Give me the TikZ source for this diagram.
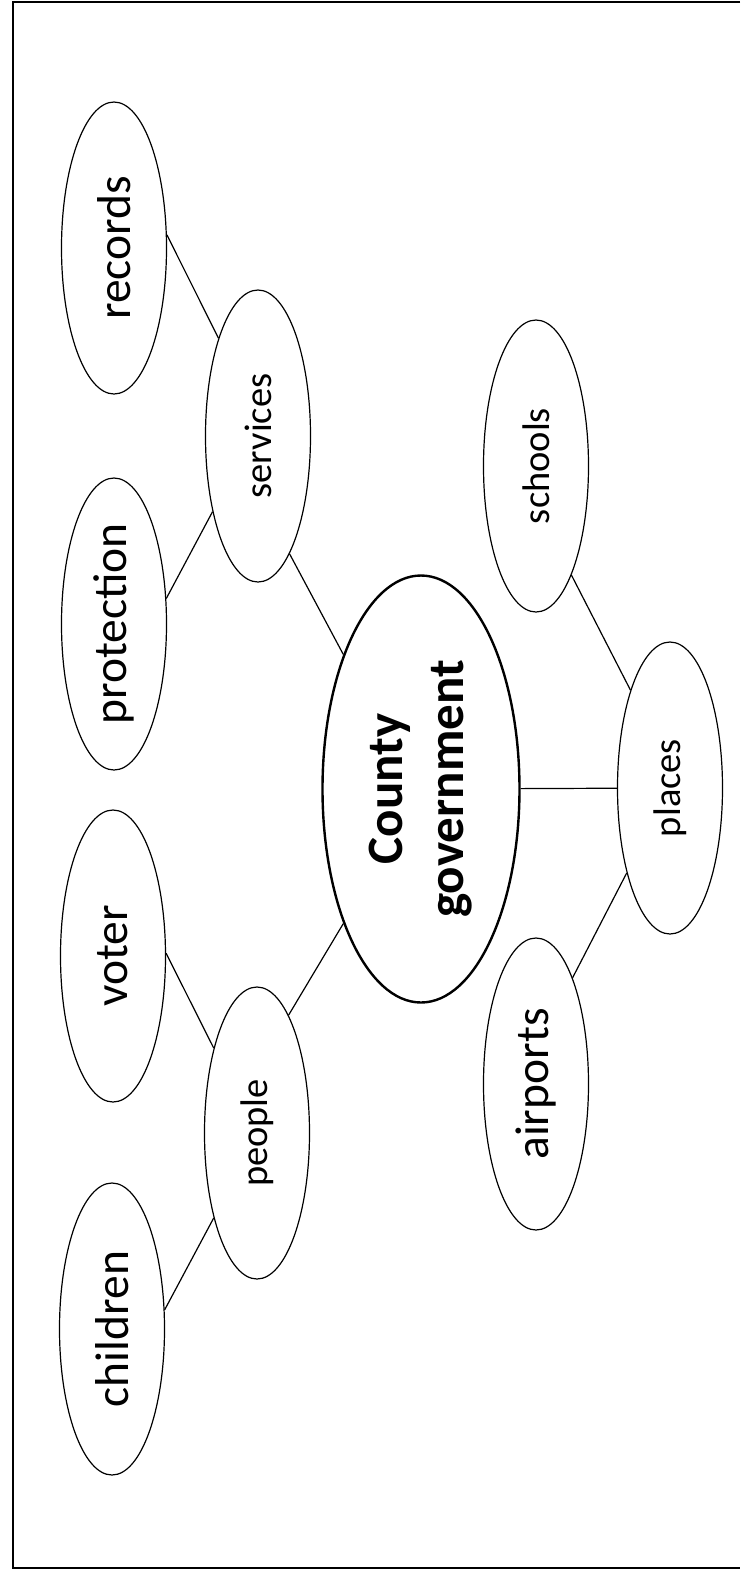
\documentclass[tikz,border=0pt]{standalone}
\usepackage{fontspec}
\setmainfont{Carlito}
\usetikzlibrary{shapes.geometric}

\begin{document}
\begin{tikzpicture}[x=0.5pt,y=-0.5pt]
\useasboundingbox (0,0) rectangle (740,1581);
\draw[line width=1.2pt] (740,2) -- (13,2) -- (13,1568) -- (740,1568);

\begin{scope}[every node/.style={ellipse,draw,line width=0.6pt,rotate=90,inner sep=0pt,
  minimum width=146pt,minimum height=52.5pt,font=\fontsize{23.75}{28}\selectfont}]
\node (records) at (114,248) {records};
\node (protection) at (114,624) {protection};
\node (voter) at (113,956) {voter};
\node (children) at (112,1329) {children};
\node (airports) at (536,1084) {airports};
\node[font=\fontsize{19.25}{23}\selectfont] (services) at (258,436) {services};
\node[font=\fontsize{19.25}{23}\selectfont] (people) at (257,1133) {people};
\node[font=\fontsize{19.25}{23}\selectfont] (schools) at (536,466) {schools};
\node[font=\fontsize{19.25}{23}\selectfont] (places) at (670,788) {places};
\node[line width=1.2pt,minimum width=213.5pt,minimum height=98.5pt,align=center,
  font=\bfseries\fontsize{25.5}{30.5}\selectfont] (county) at (421,789) {County\\government};
\end{scope}

\begin{scope}[line width=0.6pt]
\path (records.-76) edge (services.22);
\path (protection.-64) edge (services.149);
\path (services.-165) edge (county.30);
\path (county) edge (places);
\path (schools.-162) edge (places.22);
\path (places.153) edge (airports.-19);
\path (county.150) edge (people.-15);
\path (voter.-87) edge (people.27);
\path (children.-70) edge (people.153);
\end{scope}
\end{tikzpicture}
\end{document}
